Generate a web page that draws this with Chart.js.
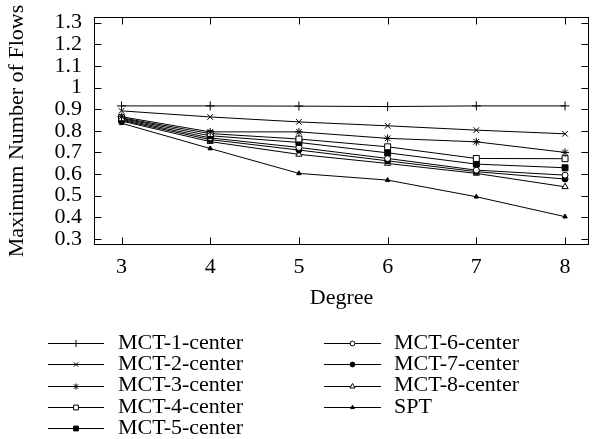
<!DOCTYPE html>
<html>
<head>
<meta charset="utf-8">
<script src="https://cdn.jsdelivr.net/npm/chart.js@4/dist/chart.umd.min.js"></script>
<style>
  html, body { margin: 0; padding: 0; background: #fff; }
  #wrap { width: 592px; height: 439px; position: relative; }
</style>
</head>
<body>
<div id="wrap"><canvas id="c" width="592" height="439"></canvas></div>
<script>
// ---- data ----
const degrees = [3, 4, 5, 6, 7, 8];
const xTickValues = [3, 4, 5, 6, 7, 8];
const yTickValues = [0.3, 0.4, 0.5, 0.6, 0.7, 0.8, 0.9, 1.0, 1.1, 1.2, 1.3];
const seriesLabels = ['MCT-1-center', 'MCT-2-center', 'MCT-3-center', 'MCT-4-center',
                      'MCT-5-center', 'MCT-6-center', 'MCT-7-center', 'MCT-8-center', 'SPT'];
const mct1 = [0.915, 0.915, 0.914, 0.912, 0.915, 0.915];
const mct2 = [0.892, 0.864, 0.841, 0.823, 0.803, 0.786];
const mct3 = [0.865, 0.795, 0.795, 0.765, 0.749, 0.700];
const mct4 = [0.860, 0.787, 0.762, 0.726, 0.672, 0.671];
const mct5 = [0.857, 0.777, 0.746, 0.698, 0.646, 0.629];
const mct6 = [0.853, 0.767, 0.723, 0.672, 0.618, 0.595];
const mct7 = [0.849, 0.759, 0.711, 0.661, 0.611, 0.577];
const mct8 = [0.845, 0.750, 0.691, 0.649, 0.603, 0.541];
const spt  = [0.835, 0.718, 0.603, 0.572, 0.495, 0.403];
const seriesValues = [mct1, mct2, mct3, mct4, mct5, mct6, mct7, mct8, spt];

// ---- styling ----
const FONT = "'Liberation Serif', 'Times New Roman', Times, serif";
const FS = 22;
const markerStyles = [
  { pointStyle: 'cross',    radius: 4.5, fill: '#000', lr: 3.5 },
  { pointStyle: 'crossRot', radius: 4,   fill: '#000', lr: 3 },
  { pointStyle: 'star',     radius: 4,   fill: '#000', lr: 3 },
  { pointStyle: 'rect',     radius: 4.2, fill: '#fff', lr: 3.4 },
  { pointStyle: 'rect',     radius: 4.2, fill: '#000', lr: 3.4 },
  { pointStyle: 'circle',   radius: 3,   fill: '#fff', lr: 2.4 },
  { pointStyle: 'circle',   radius: 3,   fill: '#000', lr: 2.4 },
  { pointStyle: 'triangle', radius: 3.6, fill: '#fff', lr: 3 },
  { pointStyle: 'triangle', radius: 2.6, fill: '#000', lr: 2.2 }
];

const datasets = seriesLabels.map((label, i) => ({
  label,
  data: degrees.map((d, j) => ({ x: d, y: seriesValues[i][j] })),
  borderColor: '#000',
  borderWidth: 1,
  backgroundColor: markerStyles[i].fill,
  pointStyle: markerStyles[i].pointStyle,
  pointRadius: markerStyles[i].radius,
  pointHoverRadius: markerStyles[i].radius,
  pointBorderColor: '#000',
  pointBackgroundColor: markerStyles[i].fill,
  pointBorderWidth: 1,
  tension: 0,
  fill: false,
  clip: false
}));

function drawMarker(ctx, style, radius, x, y) {
  ctx.save();
  ctx.strokeStyle = '#000';
  ctx.fillStyle = style.fill;
  ctx.lineWidth = 1;
  if (Chart.helpers && Chart.helpers.drawPoint) {
    Chart.helpers.drawPoint(ctx, { pointStyle: style.pointStyle, radius, borderWidth: 1, rotation: 0 }, x, y);
  }
  ctx.restore();
}

function zeroPad(axis) {
  axis.paddingTop = 0; axis.paddingBottom = 0;
  axis.paddingLeft = 0; axis.paddingRight = 0;
}

const framePlugin = {
  id: 'frame',
  beforeDatasetsDraw(chart) {
    const { ctx, chartArea: a, scales } = chart;
    ctx.save();
    ctx.strokeStyle = '#000';
    ctx.lineWidth = 1;
    const L = Math.round(a.left) + 0.5, R = Math.round(a.right) - 0.5;
    const T = Math.round(a.top) + 0.5, B = Math.round(a.bottom) - 0.5;
    ctx.strokeRect(L, T, R - L, B - T);
    const tl = 7;
    ctx.beginPath();
    scales.y.ticks.forEach(t => {
      const py = Math.round(scales.y.getPixelForValue(t.value)) + 0.5;
      ctx.moveTo(L, py); ctx.lineTo(L + tl, py);
      ctx.moveTo(R, py); ctx.lineTo(R - tl, py);
    });
    scales.x.ticks.forEach(t => {
      const px = Math.round(scales.x.getPixelForValue(t.value)) + 0.5;
      ctx.moveTo(px, B); ctx.lineTo(px, B - tl);
      ctx.moveTo(px, T); ctx.lineTo(px, T + tl);
    });
    ctx.stroke();
    ctx.restore();
  },
  afterDraw(chart) {
    const { ctx } = chart;
    const cols = [
      { x0: 48, x1: 104, tx: 118 },
      { x0: 324, x1: 381, tx: 394 }
    ];
    const rows = [343, 364.3, 385.6, 406.9, 428.2];
    ctx.save();
    ctx.font = FS + 'px ' + FONT;
    ctx.textBaseline = 'middle';
    ctx.textAlign = 'left';
    chart.data.datasets.forEach((ds, i) => {
      const col = cols[i < 5 ? 0 : 1];
      const y = rows[i < 5 ? i : i - 5];
      ctx.strokeStyle = '#000';
      ctx.lineWidth = 1;
      ctx.beginPath();
      ctx.moveTo(col.x0, Math.round(y) + 0.5);
      ctx.lineTo(col.x1, Math.round(y) + 0.5);
      ctx.stroke();
      drawMarker(ctx, markerStyles[i], markerStyles[i].lr, (col.x0 + col.x1) / 2, Math.round(y) + 0.5);
      ctx.fillStyle = '#000';
      ctx.fillText(ds.label, col.tx, y);
    });
    ctx.restore();
  }
};

new Chart(document.getElementById('c'), {
  type: 'line',
  data: { datasets },
  options: {
    responsive: false,
    animation: false,
    devicePixelRatio: 1,
    layout: { autoPadding: false, padding: { left: 0, right: 3, top: 17, bottom: 0 } },
    plugins: { legend: { display: false }, tooltip: { enabled: false } },
    scales: {
      x: {
        type: 'linear',
        min: 2.69,
        max: 8.27,
        grid: { display: false, drawTicks: false },
        border: { display: false },
        afterBuildTicks: (axis) => { axis.ticks = xTickValues.map(v => ({ value: v })); },
        afterFit: (axis) => { axis.height = 194; zeroPad(axis); },
        ticks: {
          padding: 9.3,
          autoSkip: false,
          color: '#000',
          font: { family: FONT, size: FS },
          maxRotation: 0,
          callback: (v) => String(v)
        },
        title: {
          display: true,
          text: 'Degree',
          color: '#000',
          font: { family: FONT, size: FS },
          padding: { top: 0, bottom: 127.3 }
        }
      },
      y: {
        type: 'linear',
        min: 0.272,
        max: 1.326,
        grid: { display: false, drawTicks: false },
        border: { display: false },
        afterBuildTicks: (axis) => { axis.ticks = yTickValues.map(v => ({ value: v })); },
        afterFit: (axis) => { axis.width = 94; zeroPad(axis); },
        ticks: {
          padding: 12,
          autoSkip: false,
          color: '#000',
          font: { family: FONT, size: FS },
          callback: (v) => String(+Number(v).toFixed(1))
        },
        title: {
          display: true,
          text: 'Maximum Number of Flows',
          color: '#000',
          font: { family: FONT, size: FS },
          padding: { top: 4.3, bottom: 0 }
        }
      }
    }
  },
  plugins: [framePlugin]
});
</script>
</body>
</html>
